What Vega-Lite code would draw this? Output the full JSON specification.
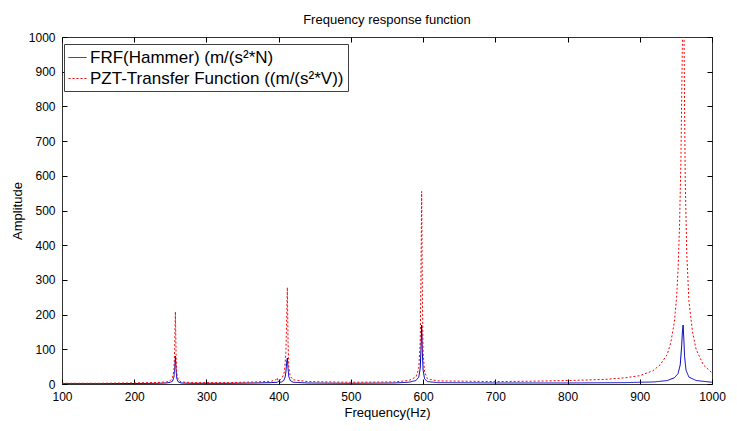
{
  "$schema": "https://vega.github.io/schema/vega-lite/v6.json",
  "width": 650,
  "height": 347,
  "autosize": "none",
  "padding": {"left": 62, "top": 37, "right": 25, "bottom": 47},
  "background": "white",
  "title": {"text": "Frequency response function", "fontSize": 13, "fontWeight": "normal", "font": "Liberation Sans", "color": "#000", "offset": 4},
  "config": {"view": {"stroke": "#333", "strokeWidth": 1}, "font": "Liberation Sans"},
  "resolve": {"axis": {"x": "independent", "y": "independent"}},
  "datasets": {
    "frf": [
      {"f":100,"a":1,"s":"FRF(Hammer) (m/(s²*N)"},{"f":150,"a":1,"s":"FRF(Hammer) (m/(s²*N)"},{"f":200,"a":1.5,"s":"FRF(Hammer) (m/(s²*N)"},{"f":230,"a":2,"s":"FRF(Hammer) (m/(s²*N)"},{"f":245,"a":3,"s":"FRF(Hammer) (m/(s²*N)"},{"f":250,"a":5,"s":"FRF(Hammer) (m/(s²*N)"},{"f":253,"a":8,"s":"FRF(Hammer) (m/(s²*N)"},{"f":255,"a":20,"s":"FRF(Hammer) (m/(s²*N)"},{"f":256,"a":45,"s":"FRF(Hammer) (m/(s²*N)"},{"f":257,"a":80,"s":"FRF(Hammer) (m/(s²*N)"},{"f":258,"a":40,"s":"FRF(Hammer) (m/(s²*N)"},{"f":259,"a":15,"s":"FRF(Hammer) (m/(s²*N)"},{"f":261,"a":6,"s":"FRF(Hammer) (m/(s²*N)"},{"f":265,"a":3,"s":"FRF(Hammer) (m/(s²*N)"},{"f":280,"a":2,"s":"FRF(Hammer) (m/(s²*N)"},{"f":330,"a":2,"s":"FRF(Hammer) (m/(s²*N)"},{"f":370,"a":3,"s":"FRF(Hammer) (m/(s²*N)"},{"f":390,"a":4,"s":"FRF(Hammer) (m/(s²*N)"},{"f":398,"a":5,"s":"FRF(Hammer) (m/(s²*N)"},{"f":400,"a":8,"s":"FRF(Hammer) (m/(s²*N)"},{"f":401,"a":5,"s":"FRF(Hammer) (m/(s²*N)"},{"f":404,"a":6,"s":"FRF(Hammer) (m/(s²*N)"},{"f":407,"a":10,"s":"FRF(Hammer) (m/(s²*N)"},{"f":409,"a":20,"s":"FRF(Hammer) (m/(s²*N)"},{"f":410,"a":35,"s":"FRF(Hammer) (m/(s²*N)"},{"f":411,"a":60,"s":"FRF(Hammer) (m/(s²*N)"},{"f":412,"a":75,"s":"FRF(Hammer) (m/(s²*N)"},{"f":413,"a":45,"s":"FRF(Hammer) (m/(s²*N)"},{"f":414,"a":22,"s":"FRF(Hammer) (m/(s²*N)"},{"f":416,"a":10,"s":"FRF(Hammer) (m/(s²*N)"},{"f":420,"a":5,"s":"FRF(Hammer) (m/(s²*N)"},{"f":440,"a":3,"s":"FRF(Hammer) (m/(s²*N)"},{"f":500,"a":2,"s":"FRF(Hammer) (m/(s²*N)"},{"f":560,"a":3,"s":"FRF(Hammer) (m/(s²*N)"},{"f":580,"a":5,"s":"FRF(Hammer) (m/(s²*N)"},{"f":590,"a":10,"s":"FRF(Hammer) (m/(s²*N)"},{"f":594,"a":20,"s":"FRF(Hammer) (m/(s²*N)"},{"f":596,"a":45,"s":"FRF(Hammer) (m/(s²*N)"},{"f":597,"a":100,"s":"FRF(Hammer) (m/(s²*N)"},{"f":598,"a":170,"s":"FRF(Hammer) (m/(s²*N)"},{"f":599,"a":90,"s":"FRF(Hammer) (m/(s²*N)"},{"f":600,"a":40,"s":"FRF(Hammer) (m/(s²*N)"},{"f":602,"a":15,"s":"FRF(Hammer) (m/(s²*N)"},{"f":606,"a":7,"s":"FRF(Hammer) (m/(s²*N)"},{"f":620,"a":4,"s":"FRF(Hammer) (m/(s²*N)"},{"f":700,"a":3,"s":"FRF(Hammer) (m/(s²*N)"},{"f":800,"a":3,"s":"FRF(Hammer) (m/(s²*N)"},{"f":880,"a":4,"s":"FRF(Hammer) (m/(s²*N)"},{"f":920,"a":6,"s":"FRF(Hammer) (m/(s²*N)"},{"f":938,"a":10,"s":"FRF(Hammer) (m/(s²*N)"},{"f":948,"a":18,"s":"FRF(Hammer) (m/(s²*N)"},{"f":953,"a":30,"s":"FRF(Hammer) (m/(s²*N)"},{"f":956,"a":55,"s":"FRF(Hammer) (m/(s²*N)"},{"f":958,"a":110,"s":"FRF(Hammer) (m/(s²*N)"},{"f":959,"a":150,"s":"FRF(Hammer) (m/(s²*N)"},{"f":960,"a":170,"s":"FRF(Hammer) (m/(s²*N)"},{"f":961,"a":130,"s":"FRF(Hammer) (m/(s²*N)"},{"f":962,"a":80,"s":"FRF(Hammer) (m/(s²*N)"},{"f":964,"a":40,"s":"FRF(Hammer) (m/(s²*N)"},{"f":968,"a":20,"s":"FRF(Hammer) (m/(s²*N)"},{"f":978,"a":10,"s":"FRF(Hammer) (m/(s²*N)"},{"f":1000,"a":5,"s":"FRF(Hammer) (m/(s²*N)"}
    ],
    "pzt": [
      {"f":100,"a":2,"s":"PZT-Transfer Function ((m/(s²*V))"},{"f":150,"a":2,"s":"PZT-Transfer Function ((m/(s²*V))"},{"f":200,"a":3,"s":"PZT-Transfer Function ((m/(s²*V))"},{"f":230,"a":4,"s":"PZT-Transfer Function ((m/(s²*V))"},{"f":245,"a":6,"s":"PZT-Transfer Function ((m/(s²*V))"},{"f":250,"a":10,"s":"PZT-Transfer Function ((m/(s²*V))"},{"f":253,"a":18,"s":"PZT-Transfer Function ((m/(s²*V))"},{"f":255,"a":40,"s":"PZT-Transfer Function ((m/(s²*V))"},{"f":256,"a":100,"s":"PZT-Transfer Function ((m/(s²*V))"},{"f":257,"a":208,"s":"PZT-Transfer Function ((m/(s²*V))"},{"f":258,"a":80,"s":"PZT-Transfer Function ((m/(s²*V))"},{"f":259,"a":30,"s":"PZT-Transfer Function ((m/(s²*V))"},{"f":261,"a":12,"s":"PZT-Transfer Function ((m/(s²*V))"},{"f":265,"a":6,"s":"PZT-Transfer Function ((m/(s²*V))"},{"f":280,"a":4,"s":"PZT-Transfer Function ((m/(s²*V))"},{"f":330,"a":4,"s":"PZT-Transfer Function ((m/(s²*V))"},{"f":370,"a":6,"s":"PZT-Transfer Function ((m/(s²*V))"},{"f":390,"a":8,"s":"PZT-Transfer Function ((m/(s²*V))"},{"f":396,"a":12,"s":"PZT-Transfer Function ((m/(s²*V))"},{"f":398,"a":18,"s":"PZT-Transfer Function ((m/(s²*V))"},{"f":399,"a":10,"s":"PZT-Transfer Function ((m/(s²*V))"},{"f":402,"a":12,"s":"PZT-Transfer Function ((m/(s²*V))"},{"f":405,"a":18,"s":"PZT-Transfer Function ((m/(s²*V))"},{"f":408,"a":35,"s":"PZT-Transfer Function ((m/(s²*V))"},{"f":410,"a":90,"s":"PZT-Transfer Function ((m/(s²*V))"},{"f":411,"a":180,"s":"PZT-Transfer Function ((m/(s²*V))"},{"f":412,"a":278,"s":"PZT-Transfer Function ((m/(s²*V))"},{"f":413,"a":120,"s":"PZT-Transfer Function ((m/(s²*V))"},{"f":414,"a":50,"s":"PZT-Transfer Function ((m/(s²*V))"},{"f":416,"a":22,"s":"PZT-Transfer Function ((m/(s²*V))"},{"f":420,"a":12,"s":"PZT-Transfer Function ((m/(s²*V))"},{"f":440,"a":7,"s":"PZT-Transfer Function ((m/(s²*V))"},{"f":500,"a":5,"s":"PZT-Transfer Function ((m/(s²*V))"},{"f":560,"a":6,"s":"PZT-Transfer Function ((m/(s²*V))"},{"f":580,"a":10,"s":"PZT-Transfer Function ((m/(s²*V))"},{"f":590,"a":20,"s":"PZT-Transfer Function ((m/(s²*V))"},{"f":594,"a":45,"s":"PZT-Transfer Function ((m/(s²*V))"},{"f":596,"a":120,"s":"PZT-Transfer Function ((m/(s²*V))"},{"f":597,"a":300,"s":"PZT-Transfer Function ((m/(s²*V))"},{"f":598,"a":555,"s":"PZT-Transfer Function ((m/(s²*V))"},{"f":599,"a":250,"s":"PZT-Transfer Function ((m/(s²*V))"},{"f":600,"a":90,"s":"PZT-Transfer Function ((m/(s²*V))"},{"f":602,"a":35,"s":"PZT-Transfer Function ((m/(s²*V))"},{"f":606,"a":15,"s":"PZT-Transfer Function ((m/(s²*V))"},{"f":620,"a":9,"s":"PZT-Transfer Function ((m/(s²*V))"},{"f":700,"a":7,"s":"PZT-Transfer Function ((m/(s²*V))"},{"f":750,"a":8,"s":"PZT-Transfer Function ((m/(s²*V))"},{"f":800,"a":10,"s":"PZT-Transfer Function ((m/(s²*V))"},{"f":850,"a":13,"s":"PZT-Transfer Function ((m/(s²*V))"},{"f":880,"a":18,"s":"PZT-Transfer Function ((m/(s²*V))"},{"f":900,"a":24,"s":"PZT-Transfer Function ((m/(s²*V))"},{"f":918,"a":38,"s":"PZT-Transfer Function ((m/(s²*V))"},{"f":928,"a":55,"s":"PZT-Transfer Function ((m/(s²*V))"},{"f":938,"a":85,"s":"PZT-Transfer Function ((m/(s²*V))"},{"f":943,"a":120,"s":"PZT-Transfer Function ((m/(s²*V))"},{"f":948,"a":180,"s":"PZT-Transfer Function ((m/(s²*V))"},{"f":951,"a":250,"s":"PZT-Transfer Function ((m/(s²*V))"},{"f":953,"a":330,"s":"PZT-Transfer Function ((m/(s²*V))"},{"f":955,"a":450,"s":"PZT-Transfer Function ((m/(s²*V))"},{"f":957,"a":650,"s":"PZT-Transfer Function ((m/(s²*V))"},{"f":958,"a":820,"s":"PZT-Transfer Function ((m/(s²*V))"},{"f":959,"a":980,"s":"PZT-Transfer Function ((m/(s²*V))"},{"f":960,"a":1300,"s":"PZT-Transfer Function ((m/(s²*V))"},{"f":961,"a":1100,"s":"PZT-Transfer Function ((m/(s²*V))"},{"f":962,"a":800,"s":"PZT-Transfer Function ((m/(s²*V))"},{"f":963,"a":580,"s":"PZT-Transfer Function ((m/(s²*V))"},{"f":965,"a":380,"s":"PZT-Transfer Function ((m/(s²*V))"},{"f":968,"a":240,"s":"PZT-Transfer Function ((m/(s²*V))"},{"f":973,"a":150,"s":"PZT-Transfer Function ((m/(s²*V))"},{"f":978,"a":100,"s":"PZT-Transfer Function ((m/(s²*V))"},{"f":988,"a":55,"s":"PZT-Transfer Function ((m/(s²*V))"},{"f":1000,"a":32,"s":"PZT-Transfer Function ((m/(s²*V))"}
    ]
  },
  "layer": [
    {
      "data": {"name": "frf"},
      "mark": {"type": "line", "clip": true, "strokeWidth": 1},
      "encoding": {
        "x": {"field": "f", "type": "quantitative", "scale": {"domain": [100, 1000], "nice": false, "zero": false},
              "axis": {"values": [100,200,300,400,500,600,700,800,900,1000], "format": "d", "labelOverlap": false, "domain": false, "grid": false, "offset": -5, "tickSize": 5, "tickWidth": 1, "tickColor": "#000", "labelFontSize": 12, "labelColor": "#000", "labelPadding": 7, "labelFlush": false, "title": "Frequency(Hz)", "titleFontSize": 13, "titleFontWeight": "normal", "titleColor": "#000", "titlePadding": 4}},
        "y": {"field": "a", "type": "quantitative", "scale": {"domain": [0, 1000], "nice": false},
              "axis": {"values": [0,100,200,300,400,500,600,700,800,900,1000], "format": "d", "labelOverlap": false, "domain": false, "grid": false, "offset": -5, "tickSize": 5, "tickWidth": 1, "tickColor": "#000", "labelFontSize": 12, "labelColor": "#000", "labelPadding": 7, "title": "Amplitude", "titleFontSize": 13, "titleFontWeight": "normal", "titleColor": "#000", "titlePadding": 4}},
        "color": {"field": "s", "type": "nominal", "scale": {"domain": ["FRF(Hammer) (m/(s²*N)", "PZT-Transfer Function ((m/(s²*V))"], "range": ["#0000c0", "#ff0000"]},
                  "legend": {"title": null, "orient": "none", "legendX": 2, "legendY": 7, "fillColor": "white", "strokeColor": "#404040", "padding": 4, "symbolType": "stroke", "symbolSize": 324, "symbolStrokeWidth": 1, "labelFontSize": 17, "labelOffset": 3, "labelColor": "#000", "rowPadding": 3, "labelLimit": 400}},
        "strokeDash": {"field": "s", "type": "nominal", "scale": {"domain": ["FRF(Hammer) (m/(s²*N)", "PZT-Transfer Function ((m/(s²*V))"], "range": [[1, 0], [2, 2]]},
                  "legend": {"title": null, "orient": "none", "legendX": 2, "legendY": 7, "fillColor": "white", "strokeColor": "#404040", "padding": 4, "symbolType": "stroke", "symbolSize": 324, "symbolStrokeWidth": 1, "labelFontSize": 17, "labelOffset": 3, "labelColor": "#000", "rowPadding": 3, "labelLimit": 400}}
      }
    },
    {
      "data": {"name": "pzt"},
      "mark": {"type": "line", "clip": true, "strokeWidth": 1},
      "encoding": {
        "x": {"field": "f", "type": "quantitative", "axis": null},
        "y": {"field": "a", "type": "quantitative", "axis": null},
        "color": {"field": "s", "type": "nominal"},
        "strokeDash": {"field": "s", "type": "nominal"}
      }
    },
    {
      "data": {"name": "pzt"},
      "mark": {"type": "point", "opacity": 0, "clip": true},
      "encoding": {
        "x": {"field": "f", "type": "quantitative",
              "axis": {"orient": "top", "values": [100,200,300,400,500,600,700,800,900,1000], "labels": false, "domain": false, "grid": false, "offset": -5, "tickSize": 5, "tickWidth": 1, "tickColor": "#000", "title": null}},
        "y": {"field": "a", "type": "quantitative",
              "axis": {"orient": "right", "values": [0,100,200,300,400,500,600,700,800,900,1000], "labels": false, "domain": false, "grid": false, "offset": -5, "tickSize": 5, "tickWidth": 1, "tickColor": "#000", "title": null}}
      }
    }
  ]
}
